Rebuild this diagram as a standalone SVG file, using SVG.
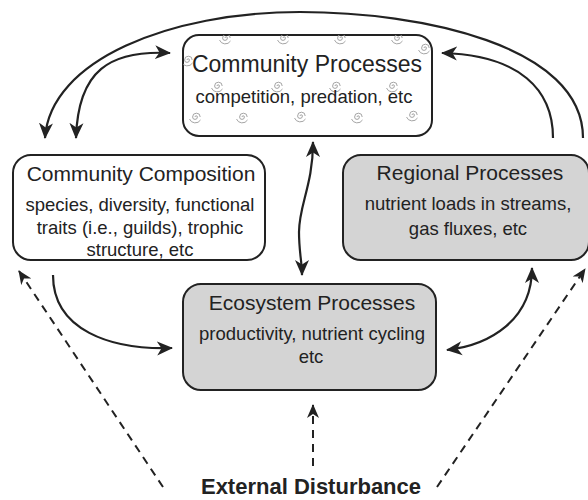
<svg xmlns="http://www.w3.org/2000/svg" xmlns:xlink="http://www.w3.org/1999/xlink" width="588" height="500" viewBox="0 0 588 500">
<style>
.box{stroke:#222;stroke-width:2}
.white{fill:#fff}
.gray{fill:#d4d4d4}
text{font-family:"Liberation Sans",Arial,sans-serif;fill:#222;text-anchor:middle}
.t{font-size:21px}
.tb{font-size:23px}
.s{font-size:18.5px}
.ext{font-size:22px;font-weight:bold}
.c{fill:none;stroke:#222;stroke-width:2.2}
.d{fill:none;stroke:#222;stroke-width:2;stroke-dasharray:8 6}
.sw{fill:none;stroke:#9a9a9a;stroke-width:0.9}
</style>
<defs>
<marker id="ah" markerUnits="userSpaceOnUse" markerWidth="18" markerHeight="16" viewBox="0 -8 18 16" refX="15" refY="0" orient="auto-start-reverse">
<path d="M0,-7 L16,0 L0,7 L4.5,0 z" fill="#222"/>
</marker>
<marker id="ahd" markerUnits="userSpaceOnUse" markerWidth="15" markerHeight="13" viewBox="0 -6.5 15 13" refX="13" refY="0" orient="auto">
<path d="M0,-6 L14,0 L0,6 L4,0 z" fill="#222"/>
</marker>
<symbol id="spiral" overflow="visible">
<path class="sw" d="M0,0 a1.2,1.2 0 0,1 2.4,0 a2.4,2.4 0 0,1 -4.8,0 a3.8,3.8 0 0,1 7.6,0"/>
<path class="sw" d="M-5.5,2 a6.2,6.2 0 0,0 11,1"/>
</symbol>
<clipPath id="cpclip"><rect x="183" y="35" width="249" height="101" rx="16"/></clipPath>
</defs>

<g id="connectors">
<path class="c" d="M583,138 C583,45 420,12 300,12 C170,12 50,60 45,138" marker-end="url(#ah)"/>
<path class="c" d="M76,138 C78,70 110,50 170,53" marker-start="url(#ah)" marker-end="url(#ah)"/>
<path class="c" d="M553,138 C553,90 520,55 442,53" marker-end="url(#ah)"/>
<path class="c" d="M313,142 C313,185 299,205 299,232 C299,252 302,262 302,275" marker-start="url(#ah)" marker-end="url(#ah)"/>
<path class="c" d="M53,275 C53,330 110,350 172,348" marker-end="url(#ah)"/>
<path class="c" d="M447,350 C490,345 532,320 532,268" marker-start="url(#ah)" marker-end="url(#ah)"/>
<path class="d" d="M163,487 L19,271" marker-end="url(#ahd)"/>
<path class="d" d="M437,487 L585,269" marker-end="url(#ahd)"/>
<path class="d" d="M313,466 L313,405" marker-end="url(#ahd)"/>
</g>

<g id="community-processes">
<rect class="box white" x="183" y="35" width="249" height="101" rx="16"/>
<g clip-path="url(#cpclip)">
<use xlink:href="#spiral" x="225" y="38"/>
<use xlink:href="#spiral" x="283" y="38"/>
<use xlink:href="#spiral" x="340" y="38"/>
<use xlink:href="#spiral" x="397" y="38"/>
<use xlink:href="#spiral" x="424" y="48"/>
<use xlink:href="#spiral" x="187" y="60"/>
<use xlink:href="#spiral" x="217" y="86"/>
<use xlink:href="#spiral" x="277" y="86"/>
<use xlink:href="#spiral" x="335" y="86"/>
<use xlink:href="#spiral" x="392" y="86"/>
<use xlink:href="#spiral" x="195" y="117"/>
<use xlink:href="#spiral" x="242" y="117"/>
<use xlink:href="#spiral" x="300" y="116"/>
<use xlink:href="#spiral" x="357" y="117"/>
<use xlink:href="#spiral" x="412" y="115"/>
</g>
<text class="tb" x="307" y="72">Community Processes</text>
<text class="s" x="304" y="103">competition, predation, etc</text>
</g>

<g id="community-composition">
<rect class="box white" x="13" y="155" width="252" height="105" rx="18"/>
<text class="t" x="141" y="181">Community Composition</text>
<text class="s" x="140" y="211">species, diversity, functional</text>
<text class="s" x="140" y="234">traits (i.e., guilds), trophic</text>
<text class="s" x="140" y="256">structure, etc</text>
</g>

<g id="regional-processes">
<rect class="box gray" x="343" y="155" width="246" height="105" rx="18"/>
<text class="t" x="470" y="180">Regional Processes</text>
<text class="s" x="468" y="210">nutrient loads in streams,</text>
<text class="s" x="468" y="235">gas fluxes, etc</text>
</g>

<g id="ecosystem-processes">
<rect class="box gray" x="183" y="284" width="253" height="106" rx="18"/>
<text class="t" x="312" y="310">Ecosystem Processes</text>
<text class="s" x="312" y="340">productivity, nutrient cycling</text>
<text class="s" x="311" y="363">etc</text>
</g>

<g id="external-disturbance">
<text class="ext" x="311" y="494">External Disturbance</text>
</g>
</svg>
